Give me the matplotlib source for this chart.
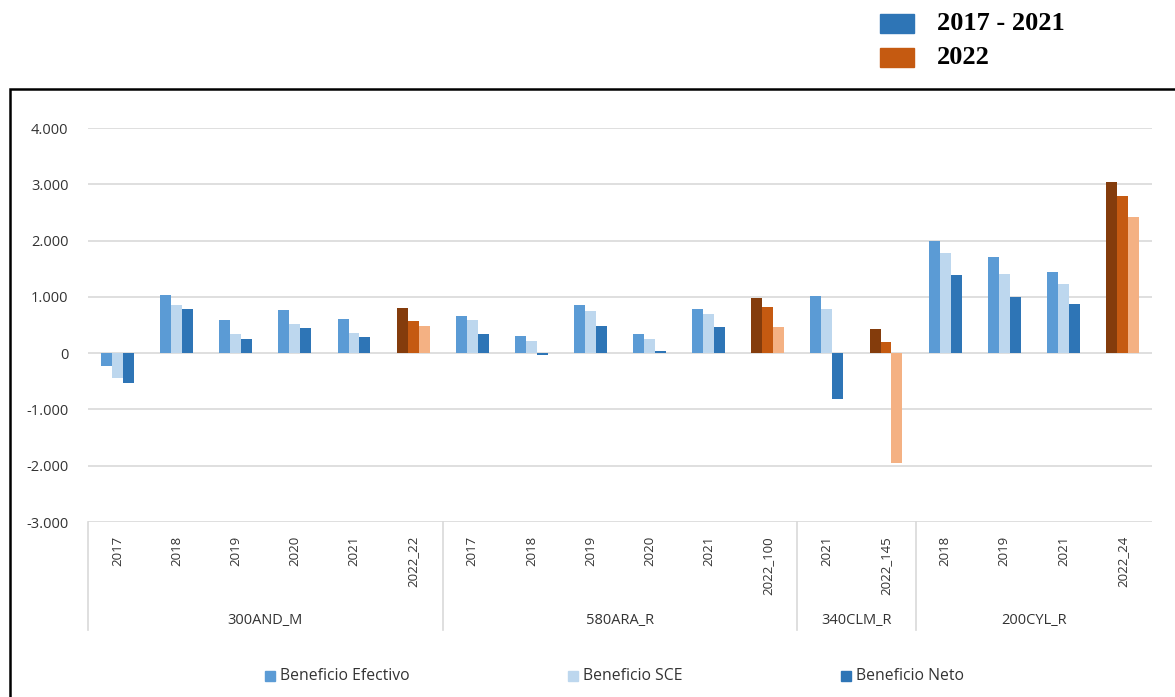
import numpy as np
import matplotlib
matplotlib.use("Agg")
import matplotlib.pyplot as plt
from matplotlib.patches import Rectangle
from matplotlib.ticker import FuncFormatter

# categorias (año / escenario) y grupo al que pertenecen
labels = ["2017", "2018", "2019", "2020", "2021", "2022_22",
          "2017", "2018", "2019", "2020", "2021", "2022_100",
          "2021", "2022_145",
          "2018", "2019", "2021", "2022_24"]
groups = ["300AND_M", "580ARA_R", "340CLM_R", "200CYL_R"]
group_sizes = [6, 6, 2, 4]

efectivo = [-230, 1040, 580, 770, 610, 800,
            660, 310, 855, 335, 780, 980,
            1010, 425,
            2000, 1715, 1450, 3045]
sce = [-440, 855, 340, 520, 360, 575,
       590, 215, 750, 260, 695, 820,
       780, 195,
       1775, 1400, 1225, 2800]
neto = [-530, 780, 255, 445, 285, 485,
        340, -35, 485, 45, 470, 465,
        -820, -1960,
        1385, 990, 875, 2410]

series_names = ["Beneficio Efectivo", "Beneficio SCE", "Beneficio Neto"]
blues = ["#5B9BD5", "#BDD7EE", "#2E75B6"]
oranges = ["#843C0C", "#C55A11", "#F4B183"]

plt.rcParams['font.family'] = ['Open Sans', 'DejaVu Sans']
txt = "#333333"

fig = plt.figure(figsize=(11.75, 6.97), dpi=100)
ax = fig.add_axes([88/1175, 1-522/697, (1152-88)/1175, (522-128)/697])

x = np.arange(len(labels))
w = 0.186
is22 = [l.startswith("2022") for l in labels]
for k, vals in enumerate([efectivo, sce, neto]):
    cols = [oranges[k] if f else blues[k] for f in is22]
    ax.bar(x + (k-1)*w, vals, w, color=cols, zorder=3, label=series_names[k])

ax.set_xlim(-0.5, len(labels)-0.5)
ax.set_ylim(-3000, 4000)
ax.set_yticks(range(-3000, 4001, 1000))
ax.yaxis.set_major_formatter(FuncFormatter(lambda v, p: f"{int(v):,}".replace(",", ".")))
ax.grid(axis='y', color="#D9D9D9", lw=1.2, zorder=0)
for s in ax.spines.values():
    s.set_visible(False)
ax.tick_params(axis='y', length=0, pad=14, labelsize=10.5, labelcolor=txt)

ax.set_xticks(x)
ax.set_xticklabels(labels, rotation=90, va='top')
ax.tick_params(axis='x', length=0, pad=10, labelsize=9.5, labelcolor=txt)

# separadores y etiquetas de grupo del eje de categorias
trans = ax.get_xaxis_transform()
edges = np.concatenate([[0], np.cumsum(group_sizes)]) - 0.5
for e in edges[:-1]:
    ax.plot([e, e], [0, -0.274], transform=trans, color="#D9D9D9", lw=1.2, clip_on=False)
for g, a, b in zip(groups, edges[:-1], edges[1:]):
    ax.text((a+b)/2, -0.249, g, transform=trans, ha='center', va='center',
            fontsize=10.5, color=txt)

# leyenda inferior
leg_x = [265, 568, 841]
for name, col, lx in zip(series_names, blues, leg_x):
    fig.patches.append(Rectangle((lx/1175, 1-681/697), 10/1175, 10/697,
                                 transform=fig.transFigure, color=col))
    fig.text((lx+15)/1175, 1-676/697, name, ha='left', va='center',
             fontsize=11.3, color=txt)

# leyenda superior (periodos)
top_items = [("2017 - 2021", "#2E75B6", 23), ("2022", "#C55A11", 57)]
for name, col, yc in top_items:
    fig.patches.append(Rectangle((880/1175, 1-(yc+10)/697), 34/1175, 19/697,
                                 transform=fig.transFigure, color=col))
    fig.text(937/1175, 1-yc/697, name, ha='left', va='center', fontsize=19,
             fontweight='bold', family=['Liberation Serif', 'DejaVu Serif'])

# marco exterior
fig.patches.append(Rectangle((10/1175, -0.1), 1.2, 1.1-89/697,
                             transform=fig.transFigure, fill=False,
                             ec='black', lw=1.8))

fig.savefig("out.png", dpi=100)
